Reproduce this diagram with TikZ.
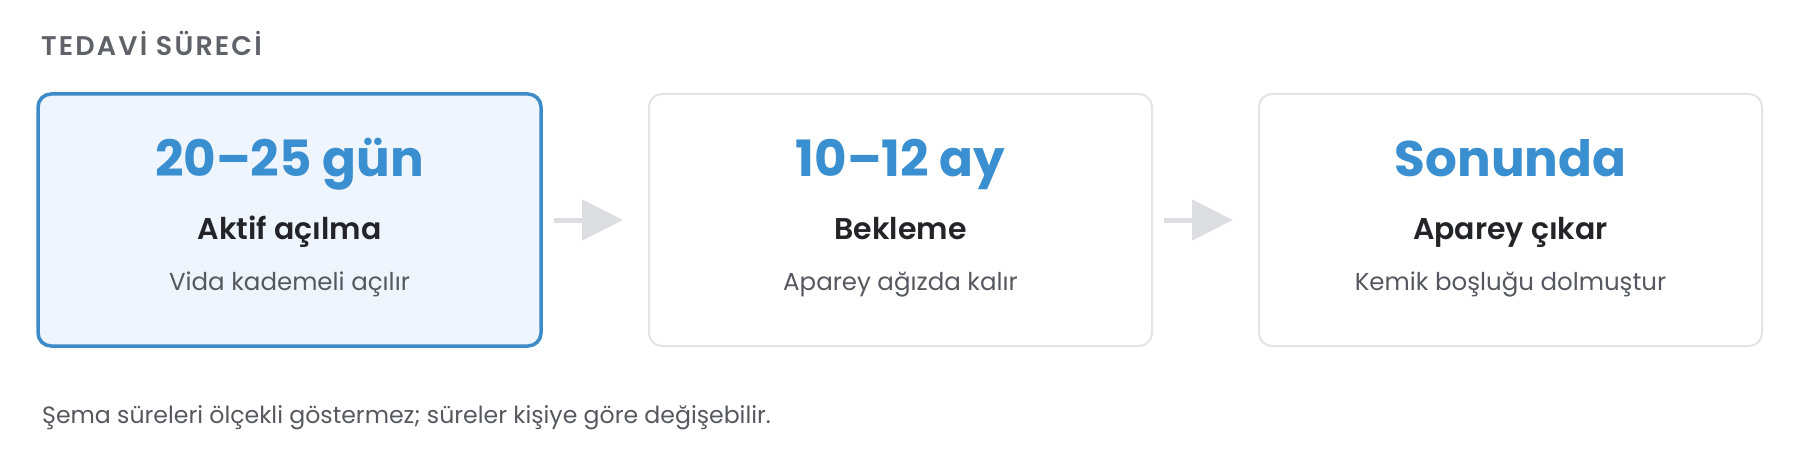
\documentclass[tikz,border=0pt]{standalone}
\usepackage{fontspec}
\setmainfont{Poppins}
\newfontfamily\semib{Poppins}[UprightFont=* SemiBold]
\newfontfamily\lbl{Poppins}[UprightFont=* SemiBold, LetterSpace=8]
\usetikzlibrary{arrows.meta}
\definecolor{accent}{HTML}{3A8FD0}
\definecolor{activeborder}{HTML}{3D8BC9}
\definecolor{activefill}{HTML}{EEF5FC}
\definecolor{boxborder}{HTML}{E2E4E6}
\definecolor{arrowgray}{HTML}{DCDEE1}
\definecolor{labelgray}{HTML}{5F6368}
\definecolor{darktext}{HTML}{222427}
\definecolor{subgray}{HTML}{55595F}
\tikzset{
  stagebox/.style={draw=boxborder, line width=2pt, fill=white, rounded corners=13pt,
    minimum width=503pt, minimum height=252pt, inner sep=0pt},
  activebox/.style={stagebox, draw=activeborder, fill=activefill, line width=3.5pt},
  headtext/.style={anchor=base, inner sep=0pt, text=accent, font=\fontsize{50}{56}\selectfont\bfseries},
  titletext/.style={anchor=base, inner sep=0pt, text=darktext, font=\semib\fontsize{30}{36}\selectfont},
  subtext/.style={anchor=base, inner sep=0pt, text=subgray, font=\fontsize{24.5}{30}\selectfont},
  flow/.style={draw=arrowgray, line width=5pt, shorten <=11pt, shorten >=25pt,
    -{Triangle[length=41pt,width=40pt,fill=arrowgray]}},
}
\begin{document}
\begin{tikzpicture}[x=1pt,y=-1pt]
\useasboundingbox (0,0) rectangle (1800,460);
\node[anchor=base west, inner sep=0pt, text=labelgray, font=\lbl\fontsize{27}{32}\selectfont] (lbl) at (41,56) {TEDAVİ SÜRECİ};

\node[activebox] (b1) at (289.5,220) {};
\node[stagebox] (b2) at (900.5,220) {};
\node[stagebox] (b3) at (1510.5,220) {};

\node[headtext] (h1) at (289.5,176) {20–25 gün};
\node[titletext] (t1) at (289.5,239) {Aktif açılma};
\node[subtext] (s1) at (289.5,290) {Vida kademeli açılır};

\node[headtext] (h2) at (900.5,176) {10–12 ay};
\node[titletext] (t2) at (900.5,239) {Bekleme};
\node[subtext] (s2) at (900.5,290) {Aparey ağızda kalır};

\node[headtext] (h3) at (1510.5,176) {Sonunda};
\node[titletext] (t3) at (1510.5,239) {Aparey çıkar};
\node[subtext] (s3) at (1510.5,290) {Kemik boşluğu dolmuştur};

\draw[flow] (b1.east) -- (b2.west);
\draw[flow] (b2.east) -- (b3.west);

\node[anchor=base west, inner sep=0pt, text=subgray, font=\fontsize{23.6}{30}\selectfont] (foot) at (42,423) {Şema süreleri ölçekli göstermez; süreler kişiye göre değişebilir.};
\end{tikzpicture}
\end{document}
